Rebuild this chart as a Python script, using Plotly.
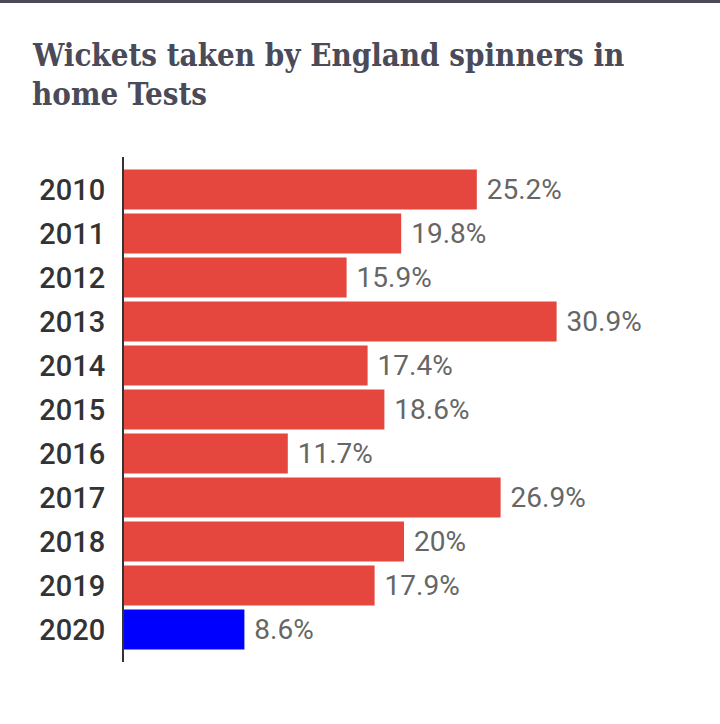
import plotly.graph_objects as go

years = ["2010", "2011", "2012", "2013", "2014", "2015", "2016", "2017", "2018", "2019", "2020"]
values = [25.2, 19.8, 15.9, 30.9, 17.4, 18.6, 11.7, 26.9, 20, 17.9, 8.6]
colors = ["#e5463d"] * 10 + ["#0000ff"]
labels = [f"{v:g}%" for v in values]
title_lines = ["Wickets taken by England spinners in", "home Tests"]

W, H = 720, 724
L, R, T, B = 124, 36, 157, 62
pw, ph = W - L - R, H - T - B

fig = go.Figure(go.Bar(
    y=years, x=values, orientation="h",
    marker=dict(color=colors, line=dict(width=0)),
    text=[" " + l for l in labels], textposition="outside",
    textfont=dict(family="Roboto", size=28, color="#666666"),
    constraintext="none", cliponaxis=False, hoverinfo="skip",
))

annotations = []
for i, line in enumerate(title_lines):
    annotations.append(dict(
        text=line, xref="paper", yref="paper",
        x=(30 - L) / pw, xanchor="left",
        y=1 + (T - (55 + 39 * i)) / ph, yanchor="middle",
        showarrow=False,
        font=dict(family="DejaVu Serif Condensed", size=31, color="#4a4a58", weight="bold"),
    ))

fig.update_layout(
    width=W, height=H,
    margin=dict(l=L, r=R, t=T, b=B),
    paper_bgcolor="white", plot_bgcolor="white",
    bargap=0.09, showlegend=False,
    annotations=annotations,
    xaxis=dict(range=[0, 40], visible=False, fixedrange=True),
    yaxis=dict(
        autorange=False, range=[10.74, -0.74], type="category",
        showline=True, linecolor="#333333", linewidth=2,
        showgrid=False, zeroline=False, ticks="", fixedrange=True,
        ticklabelstandoff=11,
        tickfont=dict(family="Roboto", size=29, color="#333333", weight=500),
    ),
    shapes=[dict(type="line", xref="paper", yref="paper",
                 x0=-L / pw, x1=(W - L) / pw, y0=1 + (T - 1.5) / ph, y1=1 + (T - 1.5) / ph,
                 line=dict(color="#4a4a58", width=3))],
)

fig.write_html("out.html", config={"displayModeBar": False},
               post_script="document.body.style.margin='0';")
